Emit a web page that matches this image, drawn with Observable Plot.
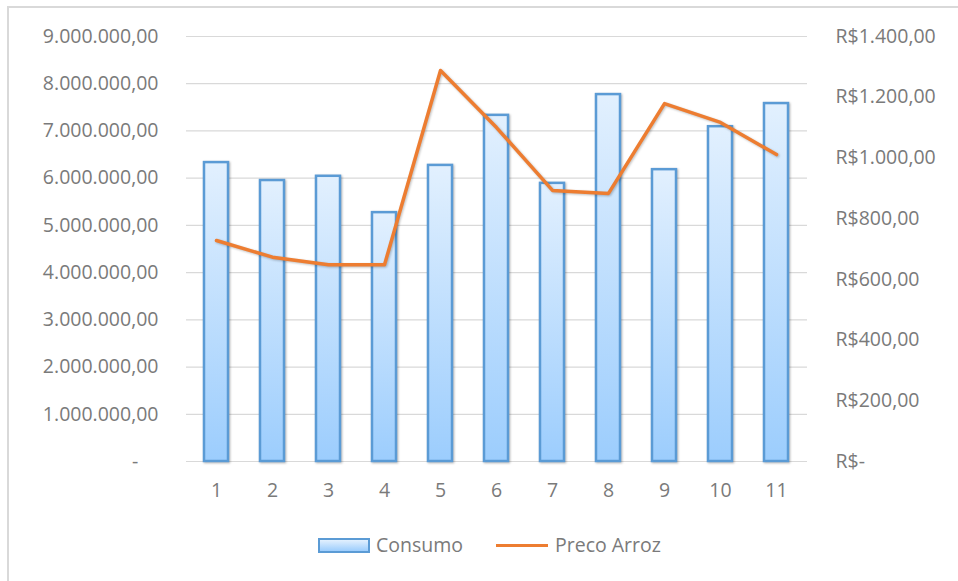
<!DOCTYPE html>
<html>
<head>
<meta charset="utf-8">
<script src="https://cdn.jsdelivr.net/npm/d3@7"></script>
<script src="https://cdn.jsdelivr.net/npm/@observablehq/plot@0.6"></script>
<style>
  body { margin: 0; background: #fff; }
  #wrap { position: relative; width: 958px; height: 581px; overflow: hidden; font-family: "Open Sans", Lato, sans-serif; }
  #frame { position: absolute; left: 7px; top: 6px; right: -10px; bottom: -10px;
           border-left: 2px solid #d9d9d9; border-top: 2px solid #d9d9d9; pointer-events: none; }
  #legend { position: relative; height: 61px; color: #7a7a7a; font-size: 19.5px; }
  #legend .sw { position: absolute; box-sizing: border-box; }
  #legend .lbl { position: absolute; line-height: 20px; }
</style>
</head>
<body>
<div id="wrap">
  <div id="chart"></div>
  <div id="legend">
    <div class="sw" style="left:318px;top:18px;width:52px;height:15px;border:2px solid #5b9bd5;background:linear-gradient(#e2f0fe,#9ccdfd);"></div>
    <div class="lbl" style="left:376px;top:15px;">Consumo</div>
    <div class="sw" style="left:496px;top:24px;width:52px;height:3px;background:#ed7d31;"></div>
    <div class="lbl" style="left:555px;top:15px;">Preco Arroz</div>
  </div>
  <div id="frame"></div>
</div>
<script>
// Monthly rice consumption (bars, left axis) and rice price (line, right axis)
const periodos = [1, 2, 3, 4, 5, 6, 7, 8, 9, 10, 11];
const consumo = [6330000, 5950000, 6040000, 5270000, 6270000, 7330000, 5890000, 7770000, 6180000, 7090000, 7580000];
const precoArroz = [728, 673, 648, 648, 1288, 1100, 893, 883, 1179, 1117, 1011];
const consumoTicks = [0, 1e6, 2e6, 3e6, 4e6, 5e6, 6e6, 7e6, 8e6, 9e6];
const precoTicks = [0, 200, 400, 600, 800, 1000, 1200, 1400];

const consumoMax = 9e6;
const precoMax = 1400;
const k = consumoMax / precoMax; // price -> left-axis units

const ptBR = d3.formatLocale({ decimal: ",", thousands: ".", grouping: [3], currency: ["R$", ""] });
const fmtNum = ptBR.format(",.2f");
const fmtBRL = ptBR.format("$,.2f");

const data = periodos.map((p, i) => ({ p, consumo: consumo[i], preco: precoArroz[i] }));

const gradientDefs = () => {
  const defs = d3.create("svg:defs");
  const g = defs.append("linearGradient").attr("id", "barFill")
    .attr("x1", 0).attr("y1", 0).attr("x2", 0).attr("y2", 1);
  g.append("stop").attr("offset", "0%").attr("stop-color", "#e2f0fe");
  g.append("stop").attr("offset", "100%").attr("stop-color", "#9ccdfd");
  return defs.node();
};

const chart = Plot.plot({
  width: 958,
  height: 520,
  marginTop: 36,
  marginBottom: 59,
  marginLeft: 186,
  marginRight: 151,
  style: { fontFamily: "'Open Sans', Lato, sans-serif", fontSize: "19.5px", color: "#7a7a7a", background: "transparent" },
  x: { type: "band", domain: periodos, paddingInner: 0.57, paddingOuter: 0.28 },
  y: { domain: [0, consumoMax] },
  marks: [
    gradientDefs,
    Plot.ruleY(consumoTicks, { stroke: "#d9d9d9", strokeWidth: 1.2 }),
    Plot.barY(data, { x: "p", y: "consumo", fill: "url(#barFill)", stroke: "#5b9bd5", strokeWidth: 2.5 }),
    Plot.line(data, { x: "p", y: d => d.preco * k, stroke: "#ed7d31", strokeWidth: 3.5, strokeLinejoin: "round" }),
    Plot.axisY({ anchor: "left", ticks: consumoTicks, tickSize: 0, tickPadding: 28,
      tickFormat: v => v === 0 ? "-\u00a0\u00a0\u00a0\u00a0" : fmtNum(v), label: null }),
    Plot.axisY({ anchor: "right", ticks: precoTicks.map(v => v * k), tickSize: 0, tickPadding: 28,
      tickFormat: v => { const r = Math.round(v / k); return r === 0 ? "R$-" : fmtBRL(r); }, label: null }),
    Plot.axisX({ tickSize: 0, tickPadding: 22, label: null })
  ]
});

d3.select(chart).selectAll('g[aria-label="bar"]').style("filter", "drop-shadow(1px 1px 1.2px rgba(0,0,0,0.28))");
d3.select(chart).selectAll('g[aria-label="line"]').style("filter", "drop-shadow(1px 1px 1.2px rgba(0,0,0,0.25))");

document.getElementById("chart").appendChild(chart);
</script>
</body>
</html>
